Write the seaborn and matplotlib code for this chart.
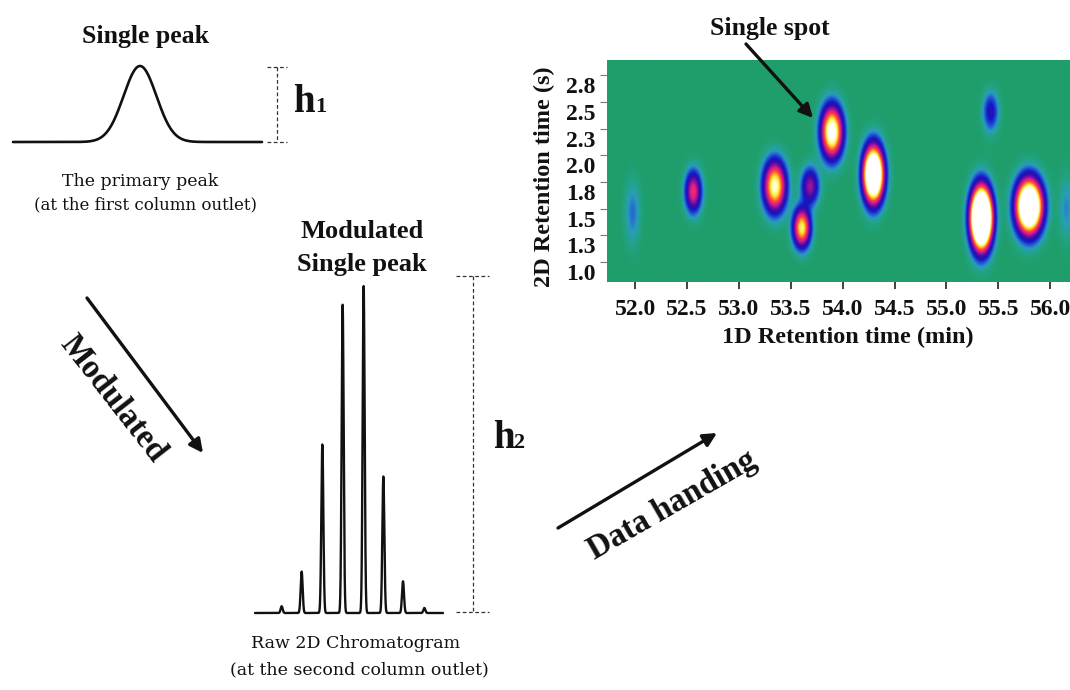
import numpy as np
import matplotlib
matplotlib.use("Agg")
import matplotlib.pyplot as plt
import seaborn as sns
import pandas as pd
from matplotlib.colors import LinearSegmentedColormap
from matplotlib.transforms import ScaledTranslation

# ---------------- data ----------------
# primary peak (first column outlet)
primary_center = 5.1
primary_sigma = 0.66
primary_height = 1.0
primary_range = [0.0, 10.0]

# modulated slices (second column outlet)
mod_times = [5.33, 9.33, 13.47, 17.53, 21.73, 25.67, 29.6, 33.87]
mod_heights = [0.02, 0.123, 0.50, 0.915, 0.97, 0.405, 0.094, 0.015]
mod_sigma = 0.2
mod_range = [0.0, 37.6]

# 2D contour plot spots
spot_rt1 = [51.97, 52.555, 53.34, 53.68, 53.60, 53.89, 54.29, 55.33, 55.42, 55.79, 56.15]
spot_rt2 = [1.46, 1.66, 1.71, 1.71, 1.32, 2.22, 1.82, 1.41, 2.41, 1.52, 1.50]
spot_sig1 = [0.05, 0.051, 0.069, 0.056, 0.054, 0.067, 0.062, 0.063, 0.05, 0.08, 0.05]
spot_sig2 = [0.2, 0.126, 0.152, 0.113, 0.118, 0.156, 0.166, 0.176, 0.122, 0.16, 0.2]
spot_amp = [0.12, 0.55, 0.95, 0.42, 0.85, 1.1, 1.8, 2.5, 0.25, 1.8, 0.1]

x_ticks = [52.0, 52.5, 53.0, 53.5, 54.0, 54.5, 55.0, 55.5, 56.0]
x_tick_labels = ['52.0', '52.5', '53.0', '53.5', '54.0', '54.5', '55.0', '55.5', '56.0']
y_ticks = [1.0, 1.25, 1.5, 1.75, 2.0, 2.25, 2.5, 2.75]
y_tick_labels = ['1.0', '1.3', '1.5', '1.8', '2.0', '2.3', '2.5', '2.8']
x_range = [51.726, 56.19]
y_range = [0.813, 2.893]

# ---------------- style ----------------
sns.set_theme(style="white")
plt.rcParams['font.family'] = ['Liberation Serif', 'DejaVu Serif']
SERIF_B = dict(family='Liberation Serif', weight='bold')
SLAB = dict(family='DejaVu Serif')
INK = '#111111'

W, H = 1070, 690
fig = plt.figure(figsize=(W / 100, H / 100), dpi=100)
fig.patch.set_facecolor('white')


def px_rect(x0, y0, x1, y1):
    return [x0 / W, 1 - y1 / H, (x1 - x0) / W, (y1 - y0) / H]


# ---------------- primary peak ----------------
ax1 = fig.add_axes(px_rect(13, 66, 262, 142))
t1 = np.linspace(primary_range[0], primary_range[1], 600)
df1 = pd.DataFrame({'t': t1,
                    'signal': primary_height * np.exp(-0.5 * ((t1 - primary_center) / primary_sigma) ** 2)})
sns.lineplot(data=df1, x='t', y='signal', ax=ax1, color=INK, lw=1.9,
             estimator=None, sort=False)
ax1.set_xlim(*primary_range)
ax1.set_ylim(0, 1)
ax1.axis('off')
for ln in ax1.lines:
    ln.set_clip_on(False)

# ---------------- modulated peak ----------------
ax2 = fig.add_axes(px_rect(255, 276, 443, 613))
t2 = np.linspace(mod_range[0], mod_range[1], 4000)
sig2 = np.zeros_like(t2)
for tm, hm in zip(mod_times, mod_heights):
    sig2 += hm * np.exp(-0.5 * ((t2 - tm) / mod_sigma) ** 2)
df2 = pd.DataFrame({'t': t2, 'signal': sig2})
sns.lineplot(data=df2, x='t', y='signal', ax=ax2, color=INK, lw=1.7,
             estimator=None, sort=False)
ax2.set_xlim(*mod_range)
ax2.set_ylim(0, 1)
ax2.axis('off')
for ln in ax2.lines:
    ln.set_clip_on(False)

# ---------------- 2D plot ----------------
ax3 = fig.add_axes(px_rect(606.7, 60, 1070, 282))
gx = np.linspace(x_range[0], x_range[1], 700)
gy = np.linspace(y_range[0], y_range[1], 350)
GX, GY = np.meshgrid(gx, gy)
Z = np.zeros_like(GX)
for a, b, sa, sb, amp in zip(spot_rt1, spot_rt2, spot_sig1, spot_sig2, spot_amp):
    Z += amp * np.exp(-0.5 * (((GX - a) / sa) ** 2 + ((GY - b) / sb) ** 2))
Z = np.clip(Z, 0, 1)

cmap = LinearSegmentedColormap.from_list('gcxgc', [
    (0.00, '#1f9e6b'),
    (0.03, '#21a383'),
    (0.08, '#2a9cbc'),
    (0.14, '#2050d8'),
    (0.21, '#1616c0'),
    (0.30, '#3a0ca8'),
    (0.40, '#9010a0'),
    (0.49, '#e01e88'),
    (0.58, '#ff3248'),
    (0.68, '#ff8a22'),
    (0.79, '#ffe535'),
    (0.90, '#ffffb0'),
    (1.00, '#ffffff'),
])
ax3.imshow(Z, extent=[x_range[0], x_range[1], y_range[0], y_range[1]], origin='lower',
           aspect='auto', cmap=cmap, vmin=0, vmax=1, interpolation='bilinear')
ax3.set_xlim(*x_range)
ax3.set_ylim(*y_range)
for sp in ax3.spines.values():
    sp.set_visible(False)
ax3.set_xticks(x_ticks)
ax3.set_xticklabels(x_tick_labels, fontsize=17, fontweight='bold', family='Liberation Serif')
ax3.set_yticks(y_ticks)
ax3.set_yticklabels(y_tick_labels, fontsize=17, fontweight='bold', family='Liberation Serif')
ax3.tick_params(axis='x', direction='out', length=5, width=1.3, color='#333333', pad=7,
                bottom=True, labelcolor=INK)
ax3.tick_params(axis='y', direction='out', length=5, width=0.8, color='#777777', pad=3,
                left=True, labelcolor=INK)
offset = ScaledTranslation(0, -0.10, fig.dpi_scale_trans)
for lab in ax3.get_yticklabels():
    lab.set_transform(lab.get_transform() + offset)
ax3.set_xlabel('1D Retention time (min)', fontsize=17.5, fontweight='bold', color=INK)
ax3.set_ylabel('2D Retention time (s)', fontsize=17.5, fontweight='bold', color=INK)
ax3.xaxis.set_label_coords((848 - 606.7) / 463.3, (282 - 337) / 222)
ax3.xaxis.label.set_verticalalignment('center')
ax3.yaxis.set_label_coords((544 - 606.7) / 463.3, (282 - 177) / 222)
ax3.yaxis.label.set_verticalalignment('center')

# ---------------- overlay: annotations ----------------
ov = fig.add_axes([0, 0, 1, 1], zorder=10)
ov.set_xlim(0, W)
ov.set_ylim(H, 0)
ov.axis('off')
ov.patch.set_visible(False)

dash = dict(color='#333333', lw=0.9, linestyle=(0, (3, 2)))
# h1 marker
ov.plot([277, 277], [66.7, 142], **dash)
ov.plot([267, 287], [66.7, 66.7], **dash)
ov.plot([267, 287], [142, 142], **dash)
# h2 marker
ov.plot([472.7, 472.7], [276, 612], **dash)
ov.plot([456, 489], [276, 276], **dash)
ov.plot([456, 489], [612, 612], **dash)

ov.text(293, 111.7, 'h', fontsize=28, ha='left', va='baseline', color=INK, **SERIF_B)
ov.text(315, 111.7, '1', fontsize=16, ha='left', va='baseline', color=INK, **SERIF_B)
ov.text(493, 448, 'h', fontsize=28, ha='left', va='baseline', color=INK, **SERIF_B)
ov.text(513, 448, '2', fontsize=16, ha='left', va='baseline', color=INK, **SERIF_B)

ov.text(145, 37, 'Single peak', fontsize=18.5, ha='center', va='center', color=INK, **SERIF_B)
ov.text(140, 182, 'The primary peak', fontsize=12.5, ha='center', va='center', color=INK, **SLAB)
ov.text(145, 205, '(at the first column outlet)', fontsize=12, ha='center', va='center',
        color=INK, **SLAB)

ov.text(362, 232, 'Modulated', fontsize=19, ha='center', va='center', color=INK, **SERIF_B)
ov.text(362, 264, 'Single peak', fontsize=19, ha='center', va='center', color=INK, **SERIF_B)
ov.text(356, 643, 'Raw 2D Chromatogram', fontsize=12.5, ha='center', va='center',
        color=INK, **SLAB)
ov.text(359, 670, '(at the second column outlet)', fontsize=12.5, ha='center', va='center',
        color=INK, **SLAB)

ov.text(770, 29, 'Single spot', fontsize=18.5, ha='center', va='center', color=INK, **SERIF_B)

arrow_kw = dict(arrowstyle='-|>', color=INK, lw=2.4, mutation_scale=20, shrinkA=0, shrinkB=0)
ov.annotate('', xy=(813, 118), xytext=(746, 44), arrowprops=arrow_kw)
ov.annotate('', xy=(203, 453), xytext=(87, 298), arrowprops=arrow_kw)
ov.annotate('', xy=(717, 433), xytext=(558, 528), arrowprops=arrow_kw)

ov.text(113, 399, 'Modulated', fontsize=23.5, rotation=-52, ha='center', va='center',
        rotation_mode='anchor', color=INK, **SERIF_B)
ov.text(672, 505, 'Data handing', fontsize=23.5, rotation=30, ha='center', va='center',
        rotation_mode='anchor', color=INK, **SERIF_B)

fig.savefig('out.png', dpi=100, facecolor='white')
